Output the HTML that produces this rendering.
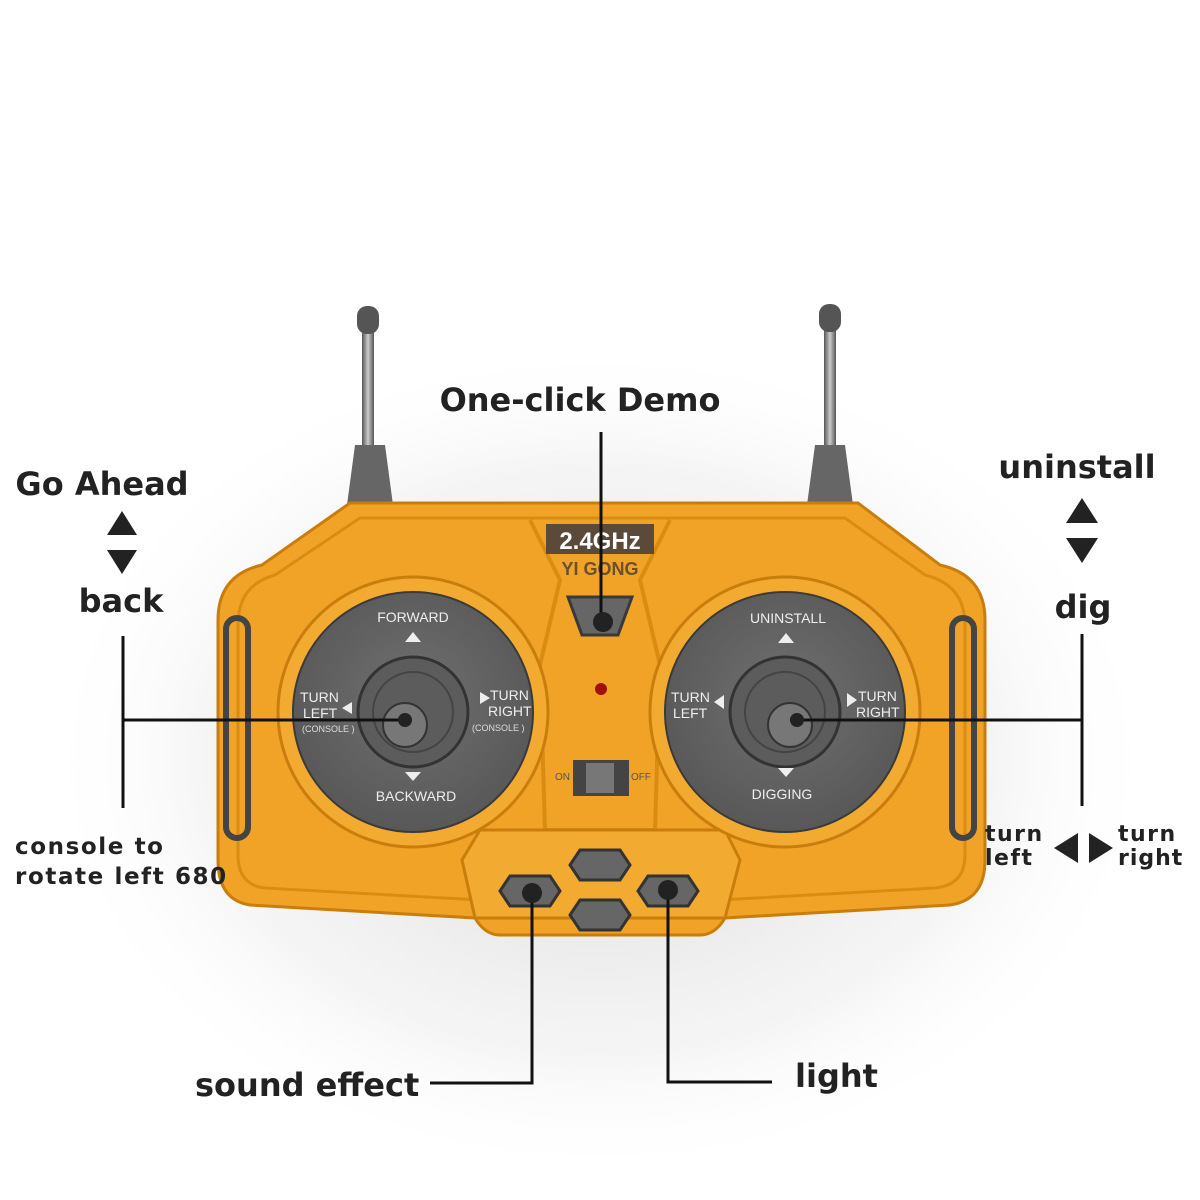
<!DOCTYPE html>
<html><head><style>
html,body{margin:0;padding:0;background:#fff;width:1200px;height:1200px;overflow:hidden}
svg{display:block}
.lbl{font-family:"DejaVu Sans","Liberation Sans",sans-serif;font-weight:bold;fill:#222}
.sm{font-family:"Liberation Sans",sans-serif;fill:#eee;font-size:14px}
</style></head><body>
<svg width="1200" height="1200" viewBox="0 0 1200 1200">
<defs>
<radialGradient id="sh" cx="50%" cy="50%" r="50%">
<stop offset="0" stop-color="#aaa" stop-opacity=".45"/><stop offset=".7" stop-color="#ccc" stop-opacity=".2"/><stop offset="1" stop-color="#fff" stop-opacity="0"/></radialGradient>
<radialGradient id="disc" cx="50%" cy="45%" r="55%"><stop offset="0" stop-color="#707070"/><stop offset="1" stop-color="#585858"/></radialGradient>
<linearGradient id="ant" x1="0" x2="1"><stop offset="0" stop-color="#555"/><stop offset=".5" stop-color="#ccc"/><stop offset="1" stop-color="#555"/></linearGradient>
</defs>
<ellipse cx="600" cy="760" rx="560" ry="420" fill="url(#sh)"/>
<rect x="362" y="320" width="12" height="130" fill="url(#ant)"/>
<rect x="824" y="320" width="12" height="130" fill="url(#ant)"/>
<rect x="357" y="306" width="22" height="28" rx="10" fill="#555"/>
<rect x="819" y="304" width="22" height="28" rx="10" fill="#555"/>
<path d="M355 445 h30 l8 60 h-46z" fill="#666"/>
<path d="M815 445 h30 l8 60 h-46z" fill="#666"/>
<path d="M350 503 H858 L940 565 Q985 575 985 620 V860 Q985 900 950 905 L725 918 Q715 935 700 935 H500 Q485 935 475 918 L250 905 Q218 900 218 860 V620 Q218 575 262 565 Z" fill="#f0a326" stroke="#c97d0c" stroke-width="3"/>
<path d="M360 518 H845 L925 575 Q965 585 965 625 V855 Q965 885 935 888 L720 900 L705 918 H495 L480 900 L265 888 Q238 885 238 855 V625 Q238 585 275 575 Z" fill="none" stroke="#d88d12" stroke-width="3"/>
<path d="M530 520 L560 580 L540 665 L545 830 H655 L660 665 L640 580 L670 520" fill="none" stroke="#d88d12" stroke-width="4"/>
<path d="M480 830 H725 L740 860 L725 918 H475 L462 860 Z" fill="#f3aa30" stroke="#c97d0c" stroke-width="3"/>
<rect x="226" y="618" width="22" height="220" rx="11" fill="none" stroke="#444" stroke-width="6"/>
<rect x="952" y="618" width="22" height="220" rx="11" fill="none" stroke="#444" stroke-width="6"/>
<circle cx="413" cy="712" r="135" fill="#f3aa30" stroke="#c97d0c" stroke-width="3"/>
<circle cx="785" cy="712" r="135" fill="#f3aa30" stroke="#c97d0c" stroke-width="3"/>
<circle cx="413" cy="712" r="120" fill="url(#disc)" stroke="#3a3a3a" stroke-width="2"/>
<circle cx="785" cy="712" r="120" fill="url(#disc)" stroke="#3a3a3a" stroke-width="2"/>
<circle cx="413" cy="712" r="55" fill="#5c5c5c" stroke="#333" stroke-width="3"/>
<circle cx="785" cy="712" r="55" fill="#5c5c5c" stroke="#333" stroke-width="3"/>
<circle cx="413" cy="712" r="40" fill="none" stroke="#444" stroke-width="2"/>
<circle cx="785" cy="712" r="40" fill="none" stroke="#444" stroke-width="2"/>
<circle cx="405" cy="725" r="22" fill="#777" stroke="#333" stroke-width="2"/>
<circle cx="790" cy="725" r="22" fill="#777" stroke="#333" stroke-width="2"/>
<text class="sm" x="413" y="622" text-anchor="middle">FORWARD</text>
<polygon points="405,642 413,632 421,642" fill="#eee"/>
<text class="sm" x="416" y="801" text-anchor="middle">BACKWARD</text>
<polygon points="405,772 421,772 413,781" fill="#eee"/>
<text class="sm" x="300" y="702">TURN</text><text class="sm" x="303" y="718">LEFT</text>
<text style="font-family:'Liberation Sans';fill:#ddd;font-size:9px" x="302" y="732">(CONSOLE )</text>
<polygon points="352,702 342,708 352,714" fill="#eee"/>
<text class="sm" x="490" y="700">TURN</text><text class="sm" x="488" y="716">RIGHT</text>
<text style="font-family:'Liberation Sans';fill:#ddd;font-size:9px" x="472" y="731">(CONSOLE )</text>
<polygon points="480,692 490,698 480,704" fill="#eee"/>
<text class="sm" x="788" y="623" text-anchor="middle">UNINSTALL</text>
<polygon points="778,643 786,633 794,643" fill="#eee"/>
<text class="sm" x="782" y="799" text-anchor="middle">DIGGING</text>
<polygon points="778,768 794,768 786,777" fill="#eee"/>
<text class="sm" x="671" y="702">TURN</text><text class="sm" x="673" y="718">LEFT</text>
<polygon points="724,695 714,702 724,709" fill="#eee"/>
<text class="sm" x="858" y="701">TURN</text><text class="sm" x="856" y="717">RIGHT</text>
<polygon points="847,693 857,700 847,707" fill="#eee"/>
<rect x="546" y="524" width="108" height="30" fill="#5b4a3a"/>
<text x="600" y="549" text-anchor="middle" style="font-family:'Liberation Sans';font-weight:bold;font-size:24px;fill:#fff">2.4GHz</text>
<text x="600" y="575" text-anchor="middle" style="font-family:'Liberation Sans';font-weight:bold;font-size:18px;fill:#6b5030">YI GONG</text>
<path d="M568 597 H632 L618 635 H582 Z" fill="#666" stroke="#3a3a3a" stroke-width="3"/>
<circle cx="601" cy="689" r="6" fill="#a01010"/>
<rect x="573" y="760" width="56" height="36" fill="#444"/>
<rect x="586" y="763" width="28" height="30" fill="#777"/>
<text x="555" y="780" style="font-family:'Liberation Sans';font-size:10px;fill:#555">ON</text>
<text x="631" y="780" style="font-family:'Liberation Sans';font-size:10px;fill:#555">OFF</text>
<polygon points="580,850 620,850 630,865 620,880 580,880 570,865" fill="#666" stroke="#333" stroke-width="3"/>
<polygon points="580,900 620,900 630,915 620,930 580,930 570,915" fill="#666" stroke="#333" stroke-width="3"/>
<polygon points="510,876 550,876 560,891 550,906 510,906 500,891" fill="#666" stroke="#333" stroke-width="3"/>
<polygon points="648,876 688,876 698,891 688,906 648,906 638,891" fill="#666" stroke="#333" stroke-width="3"/>
<g stroke="#111" stroke-width="3" fill="none">
<line x1="601" y1="432" x2="601" y2="620"/>
<line x1="123" y1="720" x2="405" y2="720"/>
<line x1="123" y1="636" x2="123" y2="808"/>
<line x1="790" y1="720" x2="1082" y2="720"/>
<line x1="1082" y1="634" x2="1082" y2="806"/>
<polyline points="532,893 532,1083 430,1083"/>
<polyline points="668,890 668,1082 772,1082"/>
</g>
<g fill="#222">
<circle cx="603" cy="622" r="10"/>
<circle cx="405" cy="720" r="7"/>
<circle cx="797" cy="720" r="7"/>
<circle cx="532" cy="893" r="10"/>
<circle cx="668" cy="890" r="10"/>
</g>
<text class="lbl" x="580" y="411" text-anchor="middle" font-size="32">One-click Demo</text>
<text class="lbl" x="102" y="495" text-anchor="middle" font-size="32">Go Ahead</text>
<polygon points="107,535 122,511 137,535" fill="#222"/>
<polygon points="107,550 137,550 122,574" fill="#222"/>
<text class="lbl" x="121" y="612" text-anchor="middle" font-size="32">back</text>
<text class="lbl" x="15" y="854" font-size="23" letter-spacing="1.6">console to</text>
<text class="lbl" x="15" y="884" font-size="23" letter-spacing="1.6">rotate left 680</text>
<text class="lbl" x="1077" y="478" text-anchor="middle" font-size="32">uninstall</text>
<polygon points="1066,523 1082,498 1098,523" fill="#222"/>
<polygon points="1066,538 1098,538 1082,563" fill="#222"/>
<text class="lbl" x="1083" y="618" text-anchor="middle" font-size="32">dig</text>
<text class="lbl" x="985" y="841" font-size="22" letter-spacing="1.5">turn</text>
<text class="lbl" x="985" y="865" font-size="22" letter-spacing="1.5">left</text>
<polygon points="1078,833 1054,848 1078,863" fill="#222"/>
<polygon points="1089,833 1113,848 1089,863" fill="#222"/>
<text class="lbl" x="1118" y="841" font-size="22" letter-spacing="1.5">turn</text>
<text class="lbl" x="1118" y="865" font-size="22" letter-spacing="1">right</text>
<text class="lbl" x="195" y="1096" font-size="32">sound effect</text>
<text class="lbl" x="795" y="1087" font-size="32">light</text>
</svg>
</body></html>
